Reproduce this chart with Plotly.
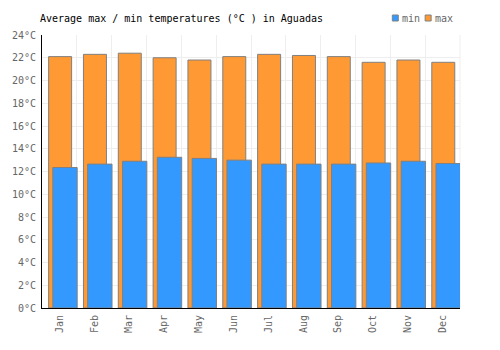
import plotly.graph_objects as go

months = ["Jan", "Feb", "Mar", "Apr", "May", "Jun", "Jul", "Aug", "Sep", "Oct", "Nov", "Dec"]
max_temp = [22.1, 22.3, 22.4, 22.0, 21.8, 22.1, 22.3, 22.2, 22.1, 21.6, 21.8, 21.6]
min_temp = [12.35, 12.65, 12.9, 13.25, 13.15, 13.0, 12.65, 12.65, 12.65, 12.75, 12.9, 12.7]
y_ticks = list(range(0, 25, 2))
y_labels = [f"{v}°C" for v in y_ticks]

FONT = "DejaVu Sans Mono"
BLUE = "#3399ff"
ORANGE = "#ff9933"

fig = go.Figure()
fig.add_trace(go.Bar(
    x=months, y=max_temp, name="max",
    marker=dict(color=ORANGE, line=dict(color="#808080", width=1)),
    width=0.66, offset=-0.31, showlegend=False,
))
fig.add_trace(go.Bar(
    x=months, y=min_temp, name="min",
    marker=dict(color=BLUE, line=dict(color="#808080", width=1)),
    width=0.70, offset=-0.19, showlegend=False,
))

fig.update_layout(
    width=500, height=350,
    margin=dict(l=40, r=40, t=35, b=42),
    barmode="overlay",
    plot_bgcolor="white", paper_bgcolor="white",
    font=dict(family=FONT, size=10, color="#666666"),
    title=dict(text="Average max / min temperatures (°C ) in Aguadas",
               x=40/500, xanchor="left", y=1-18/350, yanchor="middle",
               font=dict(family=FONT, size=10, color="#000000")),
    showlegend=False,
    xaxis=dict(type="category", tickson="boundaries", showgrid=True, gridcolor="#eeeeee",
               showline=True, linecolor="#000000", linewidth=1, ticks="",
               tickangle=-90, tickfont=dict(family=FONT, size=10, color="#666666"),
               range=[-0.5, 11.5], ticklabelstandoff=2),
    yaxis=dict(range=[0, 24], tickvals=y_ticks, ticktext=y_labels, showgrid=True,
               gridcolor="#eeeeee", showline=True, linecolor="#000000", linewidth=1,
               ticks="", zeroline=False, ticklabelstandoff=3,
               tickfont=dict(family=FONT, size=10, color="#666666")),
)
fig.add_shape(type="line", xref="paper", yref="paper", x0=1, x1=1, y0=0, y1=1,
              line=dict(color="#eeeeee", width=1), layer="below")

# legend drawn manually (pixel positions converted to paper coords)
def px(x):
    return (x - 40) / 420

def py(y):
    return (308 - y) / 273

legend_items = [("min", BLUE, 392), ("max", ORANGE, 425)]
for label, color, x0 in legend_items:
    fig.add_shape(type="rect", xref="paper", yref="paper",
                  x0=px(x0), x1=px(x0 + 6), y0=py(21), y1=py(15),
                  fillcolor=color, line=dict(color="#808080", width=1))
    fig.add_annotation(text=label, xref="paper", yref="paper", x=px(x0 + 8), y=py(18),
                       xanchor="left", yanchor="middle", showarrow=False,
                       font=dict(family=FONT, size=10, color="#666666"))

fig.write_html("out.html")
